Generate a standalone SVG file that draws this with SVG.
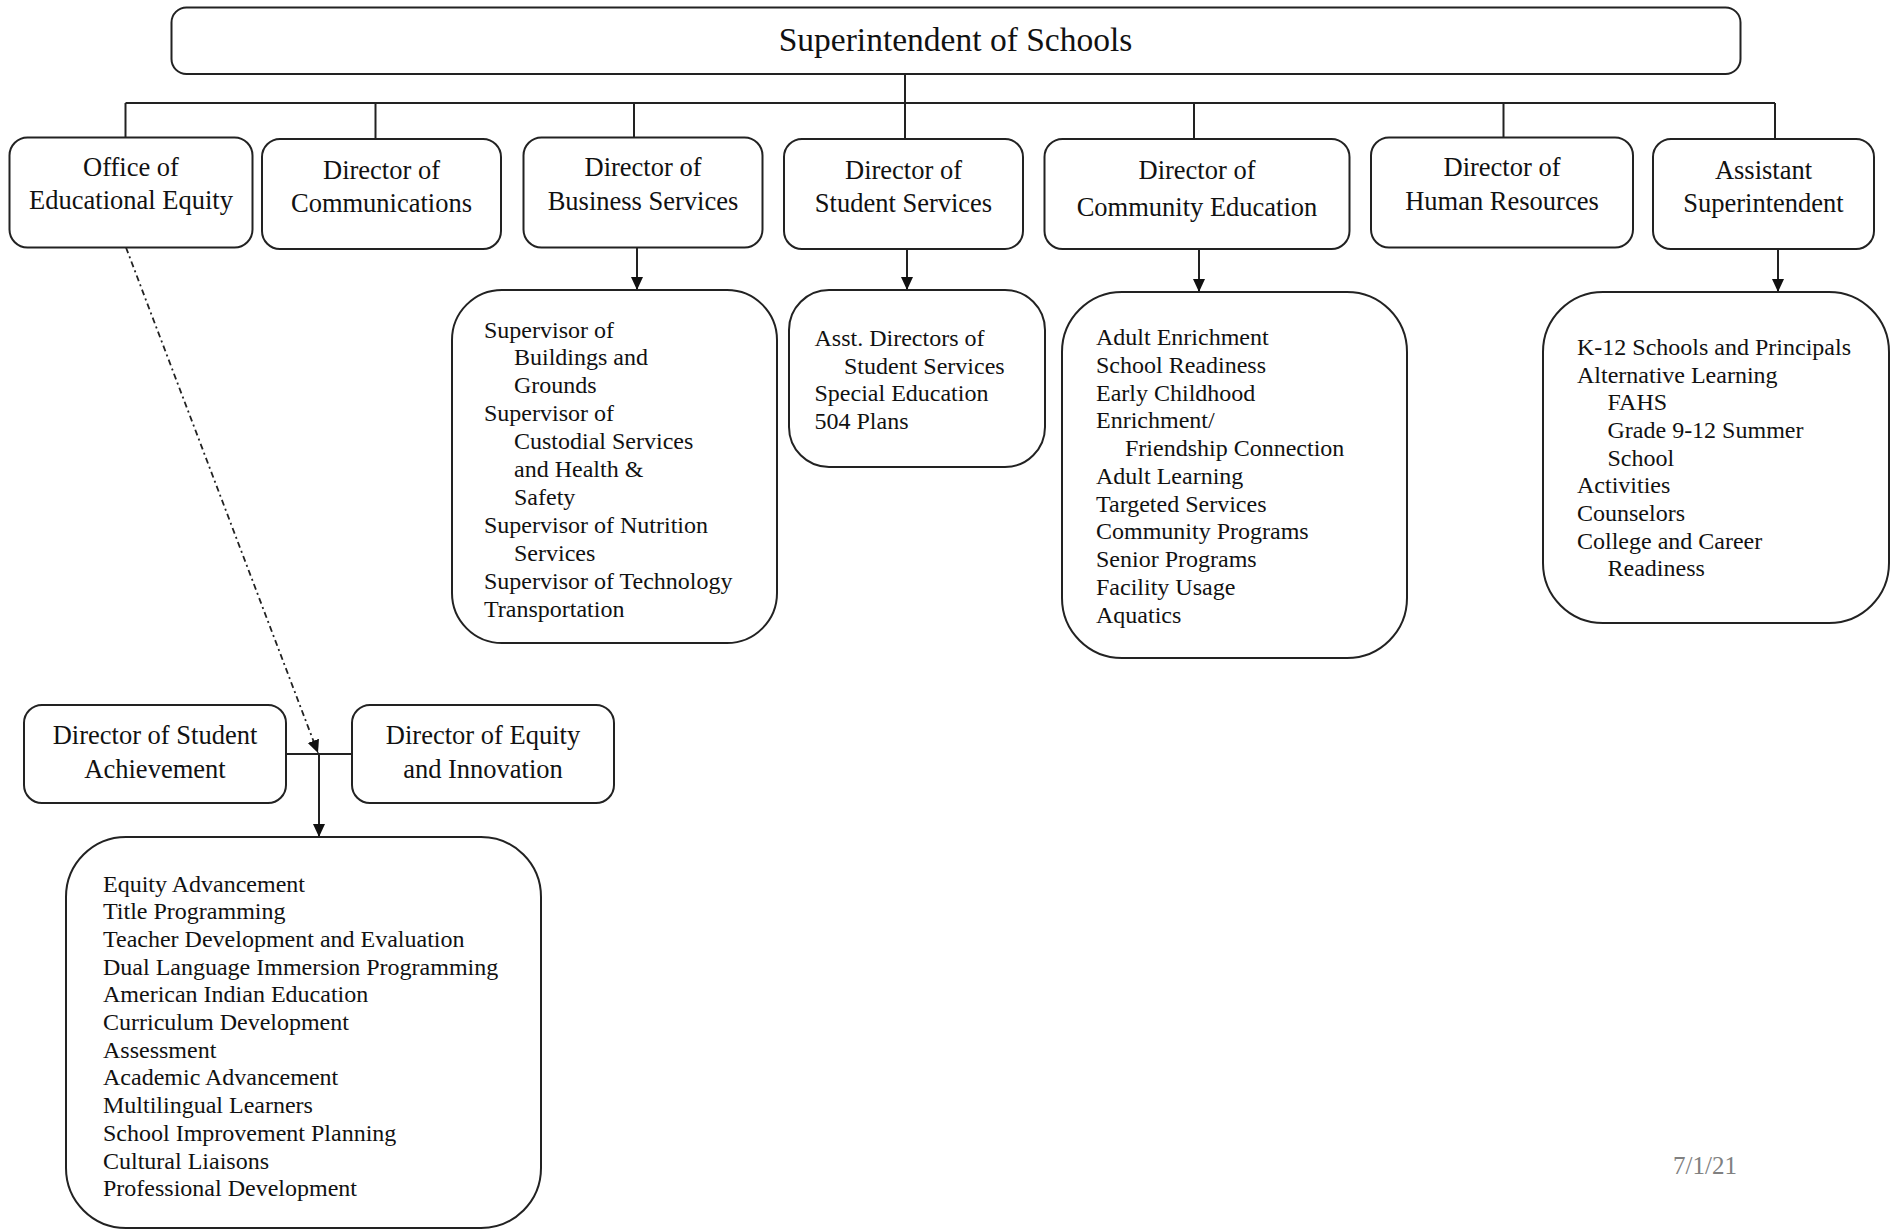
<svg xmlns="http://www.w3.org/2000/svg" width="1892" height="1230" viewBox="0 0 1892 1230">
<defs>
<marker id="arr" markerUnits="userSpaceOnUse" markerWidth="14" markerHeight="14" viewBox="0 0 14 14" refX="13" refY="7" orient="auto">
<path d="M0,1 L13,7 L0,13 z" fill="#111"/>
</marker>
</defs>
<style>
.box{fill:#fff;stroke:#222;stroke-width:2}
.ln{fill:none;stroke:#222;stroke-width:2}
.dash{fill:none;stroke:#222;stroke-width:1.8;stroke-dasharray:6 3.5 2 3.5}
.t{font-family:"Liberation Serif","Times New Roman",serif;fill:#111}
.h{font-size:26.5px;text-anchor:middle}
.l{font-size:24px}
.big{font-size:33.5px;text-anchor:middle}
.date{font-family:"Liberation Serif","Times New Roman",serif;font-size:25px;fill:#808080}
</style>
<rect width="1892" height="1230" fill="#fff"/>

<g id="connectors">
<line class="ln" x1="905" y1="74" x2="905" y2="103"/>
<line class="ln" x1="125.5" y1="103" x2="1775" y2="103"/>
<line class="ln" x1="125.5" y1="103" x2="125.5" y2="137.5"/>
<line class="ln" x1="375.5" y1="103" x2="375.5" y2="139"/>
<line class="ln" x1="634" y1="103" x2="634" y2="137.5"/>
<line class="ln" x1="905" y1="103" x2="905" y2="139"/>
<line class="ln" x1="1194" y1="103" x2="1194" y2="139"/>
<line class="ln" x1="1503.5" y1="103" x2="1503.5" y2="137.5"/>
<line class="ln" x1="1775" y1="103" x2="1775" y2="139"/>
<line class="ln" x1="637" y1="247.5" x2="637" y2="290" marker-end="url(#arr)"/>
<line class="ln" x1="907" y1="249" x2="907" y2="290" marker-end="url(#arr)"/>
<line class="ln" x1="1199" y1="249" x2="1199" y2="292" marker-end="url(#arr)"/>
<line class="ln" x1="1778" y1="249" x2="1778" y2="292" marker-end="url(#arr)"/>
<line class="dash" x1="126" y1="247.5" x2="318" y2="753" marker-end="url(#arr)"/>
<line class="ln" x1="286" y1="754" x2="352" y2="754"/>
<line class="ln" x1="319" y1="754" x2="319" y2="837" marker-end="url(#arr)"/>
</g>

<g id="superintendent">
<rect class="box" x="171.5" y="7.5" width="1569" height="66.5" rx="15"/>
<text class="t big" x="955.5" y="51">Superintendent of Schools</text>
</g>

<g id="office-equity">
<rect class="box" x="9.5" y="137.5" width="243" height="110" rx="18"/>
<text class="t h" x="131" y="176">Office of</text>
<text class="t h" x="131" y="208.5">Educational Equity</text>
</g>

<g id="dir-communications">
<rect class="box" x="262" y="139" width="239" height="110" rx="18"/>
<text class="t h" x="381.5" y="178.5">Director of</text>
<text class="t h" x="381.5" y="212">Communications</text>
</g>

<g id="dir-business">
<rect class="box" x="523.5" y="137.5" width="239" height="110" rx="18"/>
<text class="t h" x="643" y="176">Director of</text>
<text class="t h" x="643" y="210">Business Services</text>
</g>

<g id="dir-student-services">
<rect class="box" x="784" y="139" width="239" height="110" rx="18"/>
<text class="t h" x="903.5" y="178.5">Director of</text>
<text class="t h" x="903.5" y="212">Student Services</text>
</g>

<g id="dir-community-ed">
<rect class="box" x="1044.5" y="139" width="305" height="110" rx="18"/>
<text class="t h" x="1197" y="178.5">Director of</text>
<text class="t h" x="1197" y="215.5">Community Education</text>
</g>

<g id="dir-hr">
<rect class="box" x="1371" y="137.5" width="262" height="110" rx="18"/>
<text class="t h" x="1502" y="176">Director of</text>
<text class="t h" x="1502" y="210">Human Resources</text>
</g>

<g id="asst-supt">
<rect class="box" x="1653" y="139" width="221" height="110" rx="18"/>
<text class="t h" x="1763.5" y="178.5">Assistant</text>
<text class="t h" x="1763.5" y="212">Superintendent</text>
</g>

<g id="business-list">
<rect class="box" x="452" y="290" width="325" height="353" rx="50"/>
<text class="t l" x="484" y="337.5">Supervisor of</text>
<text class="t l" x="514" y="365.4">Buildings and</text>
<text class="t l" x="514" y="393.3">Grounds</text>
<text class="t l" x="484" y="421.2">Supervisor of</text>
<text class="t l" x="514" y="449.1">Custodial Services</text>
<text class="t l" x="514" y="477">and Health &amp;</text>
<text class="t l" x="514" y="504.9">Safety</text>
<text class="t l" x="484" y="532.8">Supervisor of Nutrition</text>
<text class="t l" x="514" y="560.7">Services</text>
<text class="t l" x="484" y="588.6">Supervisor of Technology</text>
<text class="t l" x="484" y="616.5">Transportation</text>
</g>

<g id="student-services-list">
<rect class="box" x="789" y="290" width="256" height="177" rx="40"/>
<text class="t l" x="814.5" y="346">Asst. Directors of</text>
<text class="t l" x="844" y="374">Student Services</text>
<text class="t l" x="814.5" y="401">Special Education</text>
<text class="t l" x="814.5" y="429">504 Plans</text>
</g>

<g id="community-list">
<rect class="box" x="1062" y="292" width="345" height="366" rx="60"/>
<text class="t l" x="1096" y="345">Adult Enrichment</text>
<text class="t l" x="1096" y="372.7">School Readiness</text>
<text class="t l" x="1096" y="400.5">Early Childhood</text>
<text class="t l" x="1096" y="428.2">Enrichment/</text>
<text class="t l" x="1125" y="456">Friendship Connection</text>
<text class="t l" x="1096" y="483.7">Adult Learning</text>
<text class="t l" x="1096" y="511.5">Targeted Services</text>
<text class="t l" x="1096" y="539.2">Community Programs</text>
<text class="t l" x="1096" y="567">Senior Programs</text>
<text class="t l" x="1096" y="594.7">Facility Usage</text>
<text class="t l" x="1096" y="622.5">Aquatics</text>
</g>

<g id="asst-list">
<rect class="box" x="1543" y="292" width="346" height="331" rx="60"/>
<text class="t l" x="1577" y="355">K-12 Schools and Principals</text>
<text class="t l" x="1577" y="382.7">Alternative Learning</text>
<text class="t l" x="1607.5" y="410.4">FAHS</text>
<text class="t l" x="1607.5" y="438">Grade 9-12 Summer</text>
<text class="t l" x="1607.5" y="465.7">School</text>
<text class="t l" x="1577" y="493.3">Activities</text>
<text class="t l" x="1577" y="521">Counselors</text>
<text class="t l" x="1577" y="548.6">College and Career</text>
<text class="t l" x="1607.5" y="576.3">Readiness</text>
</g>

<g id="dir-student-achievement">
<rect class="box" x="24" y="705" width="262" height="98" rx="18"/>
<text class="t h" x="155" y="743.5">Director of Student</text>
<text class="t h" x="155" y="777.5">Achievement</text>
</g>

<g id="dir-equity-innovation">
<rect class="box" x="352" y="705" width="262" height="98" rx="18"/>
<text class="t h" x="483" y="743.5">Director of Equity</text>
<text class="t h" x="483" y="777.5">and Innovation</text>
</g>

<g id="equity-list">
<rect class="box" x="66" y="837" width="475" height="391" rx="60"/>
<text class="t l" x="103" y="891.5">Equity Advancement</text>
<text class="t l" x="103" y="919.2">Title Programming</text>
<text class="t l" x="103" y="946.9">Teacher Development and Evaluation</text>
<text class="t l" x="103" y="974.6">Dual Language Immersion Programming</text>
<text class="t l" x="103" y="1002.3">American Indian Education</text>
<text class="t l" x="103" y="1030">Curriculum Development</text>
<text class="t l" x="103" y="1057.7">Assessment</text>
<text class="t l" x="103" y="1085.4">Academic Advancement</text>
<text class="t l" x="103" y="1113.1">Multilingual Learners</text>
<text class="t l" x="103" y="1140.8">School Improvement Planning</text>
<text class="t l" x="103" y="1168.5">Cultural Liaisons</text>
<text class="t l" x="103" y="1196.2">Professional Development</text>
</g>

<text class="date" x="1673" y="1174">7/1/21</text>
</svg>
